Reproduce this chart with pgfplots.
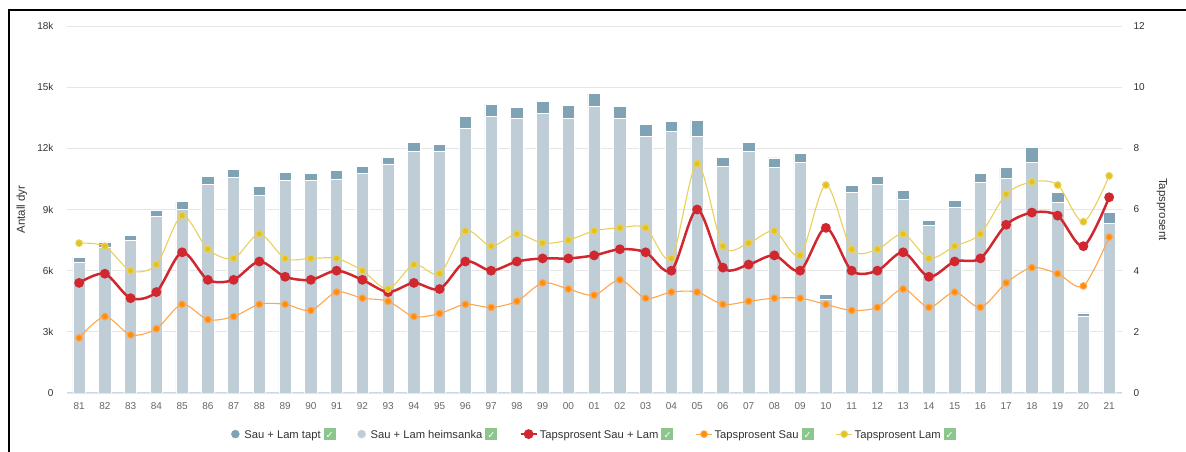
\documentclass[border=0pt]{standalone}
\usepackage{fontspec}
\setmainfont{Liberation Sans}
\newfontfamily\dejavu{DejaVu Sans}
\usepackage{pgfplots}
\pgfplotsset{compat=1.18}
\usepackage{pgfplotstable}

\definecolor{tapt}{HTML}{7FA2B4}
\definecolor{heim}{HTML}{BFCDD7}
\definecolor{redc}{HTML}{D0282E}
\definecolor{orc}{HTML}{FF8C0A}
\definecolor{orl}{HTML}{FFA64D}
\definecolor{yec}{HTML}{E3C21C}
\definecolor{yel}{HTML}{E9D05A}
\definecolor{gridc}{HTML}{E6E6E6}
\definecolor{axc}{HTML}{CCD6EB}
\definecolor{tickc}{HTML}{666666}
\definecolor{txtc}{HTML}{333333}
\definecolor{chkg}{HTML}{8CC68C}

\newcommand{\chkbox}{\hspace{3pt}{\setlength{\fboxsep}{0pt}\raisebox{-2pt}{\colorbox{chkg}{\makebox[12pt][c]{\rule{0pt}{12pt}\raisebox{1.5pt}{\textcolor{white}{\dejavu\fontsize{9.5}{9.5}\selectfont ✓}}}}}}}

\pgfplotstableread{
x heim tapt red sau lam
0 6400 260 3.6 1.8 4.9
1 7150 260 3.9 2.5 4.8
2 7490 230 3.1 1.9 4.0
3 8670 280 3.3 2.1 4.2
4 9000 380 4.6 2.9 5.8
5 10230 380 3.7 2.4 4.7
6 10590 390 3.7 2.5 4.4
7 9720 430 4.3 2.9 5.2
8 10420 390 3.8 2.9 4.4
9 10420 350 3.7 2.7 4.4
10 10500 400 4.0 3.3 4.4
11 10770 360 3.7 3.1 4.0
12 11240 310 3.3 3.0 3.4
13 11860 440 3.6 2.5 4.2
14 11830 360 3.4 2.6 3.9
15 12980 570 4.3 2.9 5.3
16 13560 590 4.0 2.8 4.8
17 13450 560 4.3 3.0 5.2
18 13710 600 4.4 3.6 4.9
19 13480 620 4.4 3.4 5.0
20 14060 640 4.5 3.2 5.3
21 13450 600 4.7 3.7 5.4
22 12600 560 4.6 3.1 5.4
23 12840 490 4.0 3.3 4.4
24 12580 800 6.0 3.3 7.5
25 11130 420 4.1 2.9 4.8
26 11830 470 4.2 3.0 4.9
27 11060 470 4.5 3.1 5.3
28 11310 460 4.0 3.1 4.5
29 4600 230 5.4 2.9 6.8
30 9830 360 4.0 2.7 4.7
31 10230 390 4.0 2.8 4.7
32 9490 440 4.6 3.4 5.2
33 8210 260 3.8 2.8 4.4
34 9100 360 4.3 3.3 4.8
35 10340 440 4.4 2.8 5.2
36 10520 560 5.5 3.6 6.5
37 11310 720 5.9 4.1 6.9
38 9330 520 5.8 3.9 6.8
39 3780 150 4.8 3.5 5.6
40 8310 560 6.4 5.1 7.1
}\data

\begin{document}
\begin{tikzpicture}
\useasboundingbox (-67pt,-59pt) rectangle (1119pt,393pt);
\begin{axis}[at={(0pt,0pt)}, anchor=south west, scale only axis,
  width=1055pt, height=367pt,
  xmin=-0.47, xmax=40.5, ymin=0, ymax=18000,
  ybar stacked, bar width=0.48,
  axis x line*=bottom, axis y line*=left,
  x axis line style={draw=axc, line width=1pt},
  y axis line style={draw=none},
  major tick length=0pt,
  xtick={0,...,40},
  xticklabels={81,82,83,84,85,86,87,88,89,90,91,92,93,94,95,96,97,98,99,00,01,02,03,04,05,06,07,08,09,10,11,12,13,14,15,16,17,18,19,20,21},
  ytick={0,3000,6000,9000,12000,15000,18000},
  yticklabels={0,3k,6k,9k,12k,15k,18k},
  ymajorgrids, grid style={draw=gridc, line width=0.8pt},
  tick label style={font=\fontsize{10}{12}\selectfont},
  xticklabel style={text=tickc, yshift=-6pt},
  yticklabel style={text=txtc, xshift=-10pt},
  ylabel={Antall dyr},
  ylabel style={at={(axis description cs:-0.0427,0.5)}, anchor=center, font=\fontsize{11.5}{13}\selectfont, text=txtc},
  scaled y ticks=false,
]
\addplot[fill=heim, draw=white, line width=0.6pt] table[x=x,y=heim]{\data};
\addplot[fill=tapt, draw=white, line width=0.6pt] table[x=x,y=tapt]{\data};
\end{axis}
\begin{axis}[at={(0pt,0pt)}, anchor=south west, scale only axis,
  width=1055pt, height=367pt,
  xmin=-0.47, xmax=40.5, ymin=0, ymax=12,
  axis x line=none, axis y line*=right,
  y axis line style={draw=none},
  major tick length=0pt,
  ytick={0,2,4,6,8,10,12},
  /pgf/number format/assume math mode=true,
  yticklabel style={text=txtc, font=\fontsize{10}{12}\selectfont, xshift=8pt},
  ylabel={Tapsprosent},
  ylabel style={at={(axis description cs:1.0379,0.5)}, anchor=center, rotate=180, font=\fontsize{11.5}{13}\selectfont, text=txtc},
  legend image code/.code={\draw[mark repeat=2,mark phase=2,#1] plot coordinates {(0pt,0pt) (8pt,0pt) (16pt,0pt)};},
  legend style={at={(0.5,-0.112)}, anchor=center, draw=none, fill=none,
    legend columns=-1, font=\fontsize{11.2}{13}\selectfont, text=txtc,
    /tikz/every even column/.append style={column sep=20pt}},
  legend cell align=left,
]
\addlegendimage{only marks, mark=*, mark size=4pt, color=tapt}
\addlegendentry{\hspace{3pt}Sau + Lam tapt\chkbox}
\addlegendimage{only marks, mark=*, mark size=4pt, color=heim}
\addlegendentry{\hspace{3pt}Sau + Lam heimsanka\chkbox}
\addplot[redc, line width=2.5pt, smooth, mark=*, mark size=3.6pt, mark options={draw=none, fill=redc}] table[x=x,y=red]{\data};
\addlegendentry{Tapsprosent Sau + Lam\chkbox}
\addplot[orl, line width=1.1pt, smooth, mark=*, mark size=3.3pt, mark options={draw=none, fill=orc}] table[x=x,y=sau]{\data};
\addlegendentry{Tapsprosent Sau\chkbox}
\addplot[yel, line width=1.1pt, smooth, mark=*, mark size=3.3pt, mark options={draw=none, fill=yec}] table[x=x,y=lam]{\data};
\addlegendentry{Tapsprosent Lam\chkbox}
\end{axis}
\draw[line width=2pt, black] (-58pt,-59pt) -- (-58pt,383pt) -- (1119pt,383pt);
\end{tikzpicture}
\end{document}
